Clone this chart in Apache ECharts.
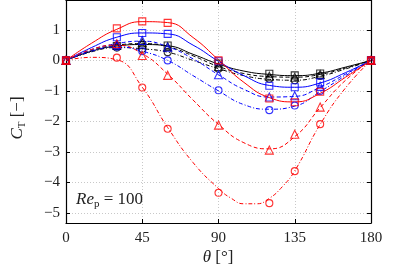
<!DOCTYPE html>
<html>
<head>
<meta charset="utf-8">
<script src="https://cdn.jsdelivr.net/npm/echarts@6/dist/echarts.min.js"></script>
<style>html,body{margin:0;padding:0;background:#fff;}#c{width:395px;height:274px;}</style>
</head>
<body>
<div id="c"></div>
<script>
// measured points
const theta = [0, 30, 45, 60, 90, 120, 135, 150, 180];
const redSquare     = [0, 1.05, 1.28, 1.23, 0.00, -1.25, -1.37, -1.03, 0];
const redTriangle   = [0, 0.55, 0.16, -0.49, -2.12, -2.94, -2.42, -1.53, 0];
const redCircle     = [0, 0.09, -0.89, -2.24, -4.34, -4.68, -3.63, -2.09, 0];
const blueSquare    = [0, 0.76, 0.90, 0.87, -0.03, -0.83, -0.88, -0.72, 0];
const blueTriangle  = [0, 0.52, 0.65, 0.43, -0.47, -1.20, -1.16, -0.85, 0];
const blueCircle    = [0, 0.45, 0.30, 0.00, -0.98, -1.63, -1.48, -1.00, 0];
const blackSquare   = [0, 0.47, 0.50, 0.49, -0.10, -0.44, -0.49, -0.43, 0];
const blackTriangle = [0, 0.50, 0.58, 0.45, -0.20, -0.52, -0.55, -0.46, 0];
const blackCircle   = [0, 0.42, 0.38, 0.27, -0.27, -0.60, -0.65, -0.51, 0];

// fitted curves
const thetaFit = [0, 15, 30, 45, 60, 75, 90, 105, 120, 135, 150, 165, 180];
const fitRedSquare     = [0, 0.56, 1.02, 1.27, 1.24, 0.75, 0.02, -0.72, -1.22, -1.36, -1.08, -0.55, 0];
const fitRedTriangle   = [0, 0.36, 0.50, 0.22, -0.45, -1.30, -2.10, -2.70, -2.90, -2.50, -1.55, -0.65, 0];
const fitBlueSquare    = [0, 0.42, 0.76, 0.90, 0.87, 0.50, -0.03, -0.50, -0.82, -0.88, -0.74, -0.40, 0];
const fitBlueTriangle  = [0, 0.35, 0.55, 0.63, 0.45, 0.05, -0.47, -0.95, -1.20, -1.18, -0.88, -0.45, 0];
const fitBlueCircle    = [0, 0.30, 0.45, 0.30, 0.00, -0.50, -1.00, -1.45, -1.60, -1.50, -1.02, -0.50, 0];
const fitBlackSquare   = [0, 0.30, 0.47, 0.52, 0.48, 0.20, -0.12, -0.35, -0.46, -0.50, -0.42, -0.22, 0];
const fitBlackTriangle = [0, 0.32, 0.50, 0.55, 0.45, 0.15, -0.20, -0.43, -0.53, -0.55, -0.46, -0.25, 0];
const fitBlackCircle   = [0, 0.28, 0.42, 0.38, 0.27, 0.00, -0.27, -0.50, -0.62, -0.65, -0.52, -0.28, 0];
// red circle curve read more finely near its minimum
const thetaFitRC = [0, 15, 30, 45, 60, 75, 90, 97.5, 105, 112.5, 120, 127.5, 135, 150, 165, 180];
const fitRedCircle = [0, 0.10, 0.02, -0.88, -2.20, -3.35, -4.20, -4.52, -4.70, -4.70, -4.52, -4.15, -3.62, -2.10, -0.90, 0];

const xTicks = [0, 45, 90, 135, 180];
const yTicks = [-5, -4, -3, -2, -1, 0, 1];

const FONT = 'Liberation Serif';
const RED = '#ff0000', BLUE = '#0000ff', BLACK = '#000000';
const SOLID = 'solid', DASHED = [4, 2.5], DASHDOT = [4, 2, 1, 2];

const groups = [
  {color: BLACK, sym: 'rect', size: 7, dash: SOLID, pts: blackSquare, fx: thetaFit, fit: fitBlackSquare},
  {color: BLACK, sym: 'triangle', size: 8, dash: DASHED, pts: blackTriangle, fx: thetaFit, fit: fitBlackTriangle},
  {color: BLACK, sym: 'circle', size: 7, dash: DASHDOT, pts: blackCircle, fx: thetaFit, fit: fitBlackCircle},
  {color: BLUE, sym: 'rect', size: 7, dash: SOLID, pts: blueSquare, fx: thetaFit, fit: fitBlueSquare},
  {color: BLUE, sym: 'triangle', size: 8, dash: DASHED, pts: blueTriangle, fx: thetaFit, fit: fitBlueTriangle},
  {color: BLUE, sym: 'circle', size: 7, dash: DASHDOT, pts: blueCircle, fx: thetaFit, fit: fitBlueCircle},
  {color: RED, sym: 'rect', size: 7, dash: SOLID, pts: redSquare, fx: thetaFit, fit: fitRedSquare},
  {color: RED, sym: 'triangle', size: 8, dash: DASHED, pts: redTriangle, fx: thetaFit, fit: fitRedTriangle},
  {color: RED, sym: 'circle', size: 7, dash: DASHDOT, pts: redCircle, fx: thetaFitRC, fit: fitRedCircle}
];

const series = [];
groups.forEach(g => {
  series.push({
    type: 'line', smooth: 0.5, showSymbol: false, silent: true, z: 2,
    data: g.fx.map((t, i) => [t, g.fit[i]]),
    lineStyle: {color: g.color, width: 1, type: g.dash}
  });
});
groups.forEach(g => {
  series.push({
    type: 'scatter', symbol: g.sym, symbolSize: g.size, z: 3, silent: true,
    data: theta.map((t, i) => [t, g.pts[i]]),
    itemStyle: {color: 'rgba(0,0,0,0)', borderColor: g.color, borderWidth: 1.1}
  });
});

const axisLine = {show: true, onZero: false, lineStyle: {color: '#000', width: 1.2}};
const tick = {show: true, inside: true, length: 4, lineStyle: {color: '#000', width: 1}};
const minus = v => String(v).replace('-', '\u2212');

const chart = echarts.init(document.getElementById('c'), null, {renderer: 'canvas'});
chart.setOption({
  animation: false,
  backgroundColor: '#fff',
  grid: {left: 66, right: 24, top: 0, bottom: 51},
  xAxis: [
    {type: 'value', min: 0, max: 180, interval: 45, position: 'bottom',
     axisLine: axisLine, axisTick: tick,
     axisLabel: {fontFamily: FONT, fontSize: 15, color: '#222', margin: 8},
     splitLine: {show: true, lineStyle: {type: [1, 2], color: '#c8c8c8', width: 1}}},
    {type: 'value', min: 0, max: 180, interval: 45, position: 'top',
     axisLine: axisLine, axisTick: tick, axisLabel: {show: false}, splitLine: {show: false}}
  ],
  yAxis: [
    {type: 'value', min: -5.33, max: 1.98, position: 'left',
     axisLine: axisLine,
     axisTick: Object.assign({}, tick, {customValues: yTicks}),
     axisLabel: {customValues: yTicks, fontFamily: FONT, fontSize: 15, color: '#222', margin: 6, formatter: minus},
     splitLine: {show: true, lineStyle: {type: [1, 2], color: '#c8c8c8', width: 1}}},
    {type: 'value', min: -5.33, max: 1.98, position: 'right',
     axisLine: axisLine,
     axisTick: Object.assign({}, tick, {customValues: yTicks}),
     axisLabel: {show: false}, splitLine: {show: false}}
  ],
  series: series,
  graphic: [
    {type: 'text', x: 18, y: 118, rotation: Math.PI / 2,
     style: {text: '{c|C}{t|T}{n| [\u2212]}', align: 'center', verticalAlign: 'middle',
       rich: {
         c: {fontFamily: FONT, fontStyle: 'italic', fontSize: 17, fill: '#222', lineHeight: 22},
         t: {fontFamily: FONT, fontSize: 11, fill: '#222', lineHeight: 22, padding: [8, 0, 0, 0]},
         n: {fontFamily: FONT, fontSize: 17, fill: '#222', lineHeight: 22}
       }}},
    {type: 'text', x: 218, y: 258,
     style: {text: '{c|\u03b8}{n| [\u00b0]}', align: 'center', verticalAlign: 'middle',
       rich: {
         c: {fontFamily: FONT, fontStyle: 'italic', fontSize: 17, fill: '#222'},
         n: {fontFamily: FONT, fontSize: 17, fill: '#222'}
       }}},
    {type: 'text', x: 76, y: 200,
     style: {text: '{c|Re}{t|p}{n| = 100}', align: 'left', verticalAlign: 'middle',
       rich: {
         c: {fontFamily: FONT, fontStyle: 'italic', fontSize: 17, fill: '#222', lineHeight: 22},
         t: {fontFamily: FONT, fontSize: 11, fill: '#222', lineHeight: 22, padding: [8, 0, 0, 0]},
         n: {fontFamily: FONT, fontSize: 17, fill: '#222', lineHeight: 22}
       }}}
  ]
});
</script>
</body>
</html>
